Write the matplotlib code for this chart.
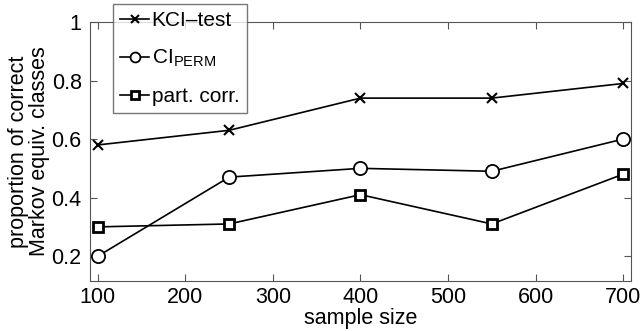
import matplotlib
matplotlib.use("Agg")
import matplotlib.pyplot as plt

plt.rcParams['font.family'] = ['Liberation Sans', 'DejaVu Sans']
plt.rcParams['mathtext.fontset'] = 'custom'
plt.rcParams['mathtext.rm'] = 'Liberation Sans'
plt.rcParams['mathtext.it'] = 'Liberation Sans'
plt.rcParams['mathtext.default'] = 'regular'

sample_size = [100, 250, 400, 550, 700]
kci_test = [0.58, 0.63, 0.74, 0.74, 0.79]
ci_perm = [0.20, 0.47, 0.50, 0.49, 0.60]
part_corr = [0.30, 0.31, 0.41, 0.31, 0.48]

fig = plt.figure(figsize=(6.41, 3.31), dpi=100)
ax = fig.add_axes([0.1404, 0.151, 0.844, 0.7825])

ax.plot(sample_size, kci_test, color='k', lw=1.2, marker='x', ms=7, mew=1.5,
        label='KCI\u2013test')
ax.plot(sample_size, ci_perm, color='k', lw=1.2, marker='o', ms=9.5, mew=1.3,
        mfc='white', label='CI$_{PERM}$')
ax.plot(sample_size, part_corr, color='k', lw=1.2, marker='s', ms=7, mew=2,
        mfc='white', label='part. corr.')

ax.set_xlim(91, 709)
ax.set_ylim(0.115, 1)
ax.set_xticks([100, 200, 300, 400, 500, 600, 700])
ax.set_yticks([0.2, 0.4, 0.6, 0.8, 1.0])
ax.set_yticklabels(['0.2', '0.4', '0.6', '0.8', '1'])
ax.tick_params(direction='in', top=True, right=True, labelsize=15.5,
               length=5, color='#555555')
ax.tick_params(axis='x', pad=4)
ax.tick_params(axis='y', pad=6)
for s in ax.spines.values():
    s.set_color('#555555')

ax.set_xlabel('sample size', fontsize=15.5, labelpad=0)
ax.set_ylabel('proportion of correct\nMarkov equiv. classes', fontsize=15.5,
              linespacing=1.0, labelpad=1)

leg = ax.legend(loc='upper left', bbox_to_anchor=(113 / 641, 1 - 4 / 331),
                bbox_transform=fig.transFigure, fontsize=15, frameon=True,
                fancybox=False, edgecolor='#555555', handlelength=1.4,
                handletextpad=0.1, borderpad=0.35, labelspacing=0.85,
                borderaxespad=0, markerscale=0.75)
leg.get_frame().set_linewidth(1.0)

fig.savefig('out.png', dpi=100)
